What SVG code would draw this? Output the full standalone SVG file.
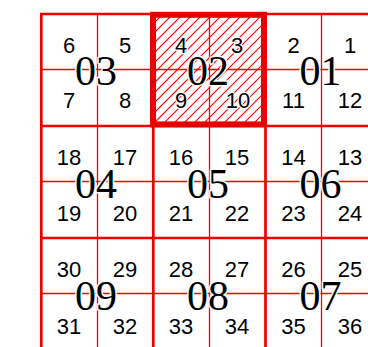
<svg xmlns="http://www.w3.org/2000/svg" width="368" height="347" viewBox="0 0 368 347">
<style>
.thin{stroke:#ff0000;stroke-width:1.3;fill:none}
.thick{stroke:#ee0000;stroke-width:2.7;fill:none}
.sel{stroke:#e80000;stroke-width:6;fill:none}
.hatch{stroke:#ff0000;stroke-width:1.1;fill:none}
.d{font-family:"Liberation Sans",Arial,sans-serif;font-size:22px;text-anchor:middle;fill:#000;stroke:#fff;stroke-width:2.5;paint-order:stroke;stroke-linejoin:round}
.b{font-family:"Liberation Serif","Times New Roman",serif;font-size:42px;text-anchor:middle;fill:#000;stroke:#fff;stroke-width:3;paint-order:stroke;stroke-linejoin:round}
</style>
<defs>
<clipPath id="cellclip"><rect x="153" y="14" width="112.5" height="112"/></clipPath>
</defs>
<rect width="368" height="347" fill="#fff"/>
<g id="hatching" clip-path="url(#cellclip)">
<path class="hatch" d="M143,24L163,4M153,24L173,4M153,34L183,4M153,44L193,4M153,54L203,4M153,64L213,4M153,74L223,4M153,84L233,4M153,94L243,4M153,104L253,4M153,114L263,4M153,124L273,4M153,134L283,4M163,134L293,4M173,134L303,4M183,134L313,4M193,134L323,4M203,134L333,4M213,134L343,4M223,134L353,4M233,134L363,4M243,134L373,4M253,134L383,4M263,134L393,4"/>
</g>
<g id="grid">
<path class="thin" d="M97.5,14V347M209.5,14V347M321.5,14V347M41,69.5H368M41,181.5H368M41,293.5H368"/>
<path class="thick" d="M41.3,12.7V347M153.3,12.7V347M265.5,12.7V347M40,14H368M40,126H368M40,238H368"/>
</g>
<rect id="selected" class="sel" x="153" y="14.8" width="111" height="109.6"/>
<g id="c03"><text class="d" x="69" y="53">6</text><text class="d" x="125" y="53">5</text><text class="d" x="69" y="108">7</text><text class="d" x="125" y="108">8</text><text class="b" x="96" y="85">03</text></g>
<g id="c02"><text class="d" x="181" y="53">4</text><text class="d" x="237" y="53">3</text><text class="d" x="181" y="108">9</text><text class="d" x="238" y="108">10</text><text class="b" x="208" y="85">02</text></g>
<g id="c01"><text class="d" x="293.5" y="53">2</text><text class="d" x="350" y="53">1</text><text class="d" x="293.5" y="108">11</text><text class="d" x="350" y="108">12</text><text class="b" x="320.5" y="85">01</text></g>
<g id="c04"><text class="d" x="69" y="165">18</text><text class="d" x="125" y="165">17</text><text class="d" x="69" y="221">19</text><text class="d" x="125" y="221">20</text><text class="b" x="96" y="198">04</text></g>
<g id="c05"><text class="d" x="181" y="165">16</text><text class="d" x="237" y="165">15</text><text class="d" x="181" y="221">21</text><text class="d" x="237" y="221">22</text><text class="b" x="208" y="198">05</text></g>
<g id="c06"><text class="d" x="293.5" y="165">14</text><text class="d" x="350" y="165">13</text><text class="d" x="293.5" y="221">23</text><text class="d" x="350" y="221">24</text><text class="b" x="320.5" y="198">06</text></g>
<g id="c09"><text class="d" x="69" y="277">30</text><text class="d" x="125" y="277">29</text><text class="d" x="69" y="334">31</text><text class="d" x="125" y="334">32</text><text class="b" x="96" y="310">09</text></g>
<g id="c08"><text class="d" x="181" y="277">28</text><text class="d" x="237" y="277">27</text><text class="d" x="181" y="334">33</text><text class="d" x="237" y="334">34</text><text class="b" x="208" y="310">08</text></g>
<g id="c07"><text class="d" x="293.5" y="277">26</text><text class="d" x="350" y="277">25</text><text class="d" x="293.5" y="334">35</text><text class="d" x="350" y="334">36</text><text class="b" x="320.5" y="310">07</text></g>
</svg>
